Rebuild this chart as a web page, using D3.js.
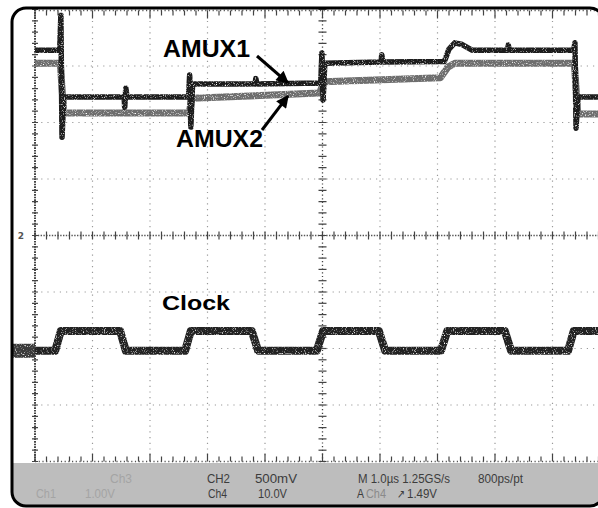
<!DOCTYPE html>
<html>
<head>
<meta charset="utf-8">
<script src="https://cdn.jsdelivr.net/npm/d3@7"></script>
<style>
  html, body { margin: 0; padding: 0; background: #fff; }
  svg { display: block; }
</style>
</head>
<body>
<svg id="scope" width="598" height="508"></svg>
<script>
// Time axis in microseconds (1.0 µs/div), amplitude in screen divisions.
const amux1Time = [-5.00, -4.57, -4.55, -4.53, -4.50, -3.45, -3.44, -3.42, -3.40,
                   -2.33, -2.31, -2.29, -2.26, -1.17, -1.16, -1.14,
                   -0.03, -0.01, 0.01, 0.04, 1.02, 1.03, 1.05,
                   2.12, 2.20, 2.30, 2.43, 2.60, 3.22, 3.23, 3.25,
                   4.37, 4.39, 4.41, 4.44, 5.00];
const amux1Div  = [3.28, 3.28, 3.90, 1.74, 2.45, 2.45, 2.27, 2.61, 2.45,
                   2.45, 2.84, 1.92, 2.68, 2.68, 2.78, 2.68,
                   2.70, 3.23, 2.40, 3.05, 3.07, 3.20, 3.07,
                   3.08, 3.30, 3.41, 3.38, 3.28, 3.28, 3.37, 3.28,
                   3.28, 3.41, 1.90, 2.45, 2.45];

const amux2Time = [-5.00, -4.56, -4.50, -2.32, -2.27, -0.05, 0.02, 2.05, 2.18, 2.30, 4.38, 4.44, 5.00];
const amux2Div  = [ 3.05,  3.05,  2.17,  2.17,  2.43,  2.52, 2.72, 2.79, 2.98, 3.05, 3.05, 2.15, 2.15];

const clockTime = [-5.00, -4.65, -4.55, -3.52, -3.42, -2.39, -2.29, -1.23, -1.12,
                   -0.10, 0.01, 0.98, 1.09, 2.06, 2.17, 3.17, 3.28, 4.27, 4.37, 5.00];
const clockDiv  = [-2.04, -2.04, -1.69, -1.69, -2.04, -2.04, -1.69, -1.69, -2.04,
                   -2.04, -1.69, -1.69, -2.04, -2.04, -1.69, -1.69, -2.04, -2.04, -1.69, -1.69];

const statusRow1 = [
  { text: "CH2", x: 207, w: 23 },
  { text: "500mV", x: 255, w: 42 },
  { text: "M 1.0µs 1.25GS/s", x: 358, w: 92 },
  { text: "800ps/pt", x: 478, w: 45 }
];
const statusRow2 = [
  { text: "Ch4", x: 208, w: 19 },
  { text: "10.0V", x: 258, w: 29 },
  { text: "A", x: 357, w: 7 },
  { text: "Ch4", x: 366, w: 20, faint: true },
  { text: "↗", x: 397, w: 8 },
  { text: "1.49V", x: 407, w: 30 }
];
const statusFaint = [
  { text: "Ch1", x: 36, w: 20, row: 2 },
  { text: "1.00V", x: 85, w: 30, row: 2 },
  { text: "Ch3", x: 110, w: 22, row: 1 }
];

const svg = d3.select("#scope");
const x = d3.scaleLinear().domain([-5, 5]).range([35, 610]);
const y = d3.scaleLinear().domain([-4, 4]).range([461.5, 9.5]);

const defs = svg.append("defs");
defs.append("clipPath").attr("id", "screenClip")
  .append("rect").attr("x", 12).attr("y", 8).attr("width", 592).attr("height", 498).attr("rx", 14);
defs.append("marker").attr("id", "head")
  .attr("viewBox", "0 0 10 10").attr("refX", 9).attr("refY", 5)
  .attr("markerWidth", 5.2).attr("markerHeight", 4.2).attr("orient", "auto")
  .attr("markerUnits", "strokeWidth")
  .append("path").attr("d", "M0,0 L10,5 L0,10 Z").attr("fill", "#000");

// Grainy phosphor texture for the acquired traces
const grain = defs.append("filter").attr("id", "grain")
  .attr("x", "-2%").attr("y", "-20%").attr("width", "104%").attr("height", "140%");
grain.append("feTurbulence").attr("type", "fractalNoise").attr("baseFrequency", 0.9)
  .attr("numOctaves", 1).attr("seed", 3).attr("result", "noise");
grain.append("feColorMatrix").attr("in", "noise").attr("type", "matrix")
  .attr("values", "0 0 0 0 0  0 0 0 0 0  0 0 0 0 0  0 0 0 -4 3.2").attr("result", "mask");
grain.append("feComposite").attr("in", "SourceGraphic").attr("in2", "mask").attr("operator", "in");

const screen = svg.append("g").attr("clip-path", "url(#screenClip)");

// Graticule: dotted division lines
const majorX = d3.range(-5, 6);
const majorY = d3.range(-4, 5);
const grid = screen.append("g");
grid.selectAll("line.vx").data(majorX.filter(d => d !== 0 && d !== -5)).join("line")
  .attr("x1", d => x(d)).attr("x2", d => x(d)).attr("y1", y(4)).attr("y2", y(-4))
  .attr("stroke", "#9a9a9a").attr("stroke-width", 1.2).attr("stroke-dasharray", "1.2,4.5");
grid.selectAll("line.hy").data(majorY.filter(d => d !== 0 && d !== 4 && d !== -4)).join("line")
  .attr("x1", x(-5)).attr("x2", x(5)).attr("y1", d => y(d)).attr("y2", d => y(d))
  .attr("stroke", "#9a9a9a").attr("stroke-width", 1.2).attr("stroke-dasharray", "1.2,5");

// Edges and centre cross with minor ticks
const minorX = d3.range(-5, 5.001, 0.2);
const minorY = d3.range(-4, 4.001, 0.2);
const isMajor = v => Math.abs(v - Math.round(v)) < 1e-6;

function hAxis(yy, dir, dense) {
  grid.append("line").attr("x1", x(-5)).attr("x2", x(5)).attr("y1", yy).attr("y2", yy)
    .attr("stroke", "#555").attr("stroke-width", 1.3).attr("stroke-dasharray", dense ? "1.4,1.4" : "1.2,2.5");
  grid.selectAll(null).data(minorX).join("line")
    .attr("x1", d => x(d)).attr("x2", d => x(d))
    .attr("y1", d => dir === 0 ? yy - 4 : yy)
    .attr("y2", d => dir === 0 ? yy + 4 : yy + dir * (isMajor(d) ? 8 : 5))
    .attr("stroke", "#444").attr("stroke-width", 1.2);
}
function vAxis(xx, dir, dense) {
  grid.append("line").attr("x1", xx).attr("x2", xx).attr("y1", y(4)).attr("y2", y(-4))
    .attr("stroke", "#444").attr("stroke-width", dense ? 2 : 1.3).attr("stroke-dasharray", dense ? "1.6,1" : "1.2,2.5");
  grid.selectAll(null).data(minorY).join("line")
    .attr("y1", d => y(d)).attr("y2", d => y(d))
    .attr("x1", d => dir === 0 ? xx - 4 : xx - 3)
    .attr("x2", d => dir === 0 ? xx + 4 : xx + 3)
    .attr("stroke", "#444").attr("stroke-width", 1.2);
}
hAxis(y(4) + 1, 1, false);
hAxis(y(-4), -1, false);
hAxis(y(0), 0, true);
vAxis(x(-5), 1, true);
vAxis(x(0), 0, false);

// Channel markers at the left edge
screen.append("text").attr("x", 21).attr("y", y(0) + 3.5).attr("text-anchor", "middle")
  .attr("font-family", "DejaVu Sans, sans-serif").attr("font-size", 9).attr("font-weight", "bold")
  .attr("fill", "#555").text("2");
screen.append("rect").attr("x", 12).attr("y", y(-2.04) - 7).attr("width", 23).attr("height", 14)
  .attr("fill", "#3a3a3a").attr("filter", "url(#grain)");

// Traces
const line = d3.line().x(d => x(d[0])).y(d => y(d[1]));
const zip = (t, v) => t.map((d, i) => [d, v[i]]);
const traces = screen.append("g").attr("fill", "none").attr("stroke-linejoin", "round")
  .attr("filter", "url(#grain)");
traces.append("path").datum(zip(amux2Time, amux2Div)).attr("d", line)
  .attr("stroke", "#6e6e6e").attr("stroke-width", 7);
traces.append("path").datum(zip(amux1Time, amux1Div)).attr("d", line)
  .attr("stroke", "#1a1a1a").attr("stroke-width", 5.5);
traces.append("path").datum(zip(clockTime, clockDiv)).attr("d", line)
  .attr("stroke", "#242424").attr("stroke-width", 8);

// Annotations
const labels = svg.append("g").attr("font-family", "Liberation Sans, Arial, sans-serif")
  .attr("font-weight", "bold").attr("fill", "#000");
labels.append("text").attr("x", 163).attr("y", 57).attr("font-size", 23)
  .attr("textLength", 87).attr("lengthAdjust", "spacingAndGlyphs").text("AMUX1");
labels.append("text").attr("x", 176).attr("y", 147).attr("font-size", 23)
  .attr("textLength", 87).attr("lengthAdjust", "spacingAndGlyphs").text("AMUX2");
labels.append("text").attr("x", 162).attr("y", 310).attr("font-size", 21)
  .attr("textLength", 68).attr("lengthAdjust", "spacingAndGlyphs").text("Clock");

const arrows = svg.append("g").attr("stroke", "#000").attr("stroke-width", 3);
arrows.append("line").attr("x1", 257).attr("y1", 56).attr("x2", x(-0.6)).attr("y2", y(2.70))
  .attr("marker-end", "url(#head)");
arrows.append("line").attr("x1", 262).attr("y1", 130).attr("x2", x(-0.6)).attr("y2", y(2.47))
  .attr("marker-end", "url(#head)");

// Status bar
const bar = screen.append("g");
bar.append("rect").attr("x", 12).attr("y", 463).attr("width", 592).attr("height", 45).attr("fill", "#bdbdbd");
const statusText = (sel, rows, yy) => sel.selectAll(null).data(rows).join("text")
  .attr("x", d => d.x).attr("y", yy)
  .attr("font-family", "Liberation Sans Narrow, Liberation Sans, sans-serif").attr("font-size", 12)
  .attr("textLength", d => d.w).attr("lengthAdjust", "spacingAndGlyphs")
  .attr("fill", d => d.faint ? "#8a8a8a" : "#3c3c3c").text(d => d.text);
statusText(bar, statusRow1, 483);
statusText(bar, statusRow2, 498);
bar.selectAll(null).data(statusFaint).join("text")
  .attr("x", d => d.x).attr("y", d => d.row === 1 ? 483 : 498)
  .attr("font-family", "Liberation Sans Narrow, Liberation Sans, sans-serif").attr("font-size", 12)
  .attr("textLength", d => d.w).attr("lengthAdjust", "spacingAndGlyphs")
  .attr("fill", "#a4a4a4").text(d => d.text);

// Bezel outline
svg.append("rect").attr("x", 12).attr("y", 8).attr("width", 592).attr("height", 498).attr("rx", 14)
  .attr("fill", "none").attr("stroke", "#000").attr("stroke-width", 3);
</script>
</body>
</html>
